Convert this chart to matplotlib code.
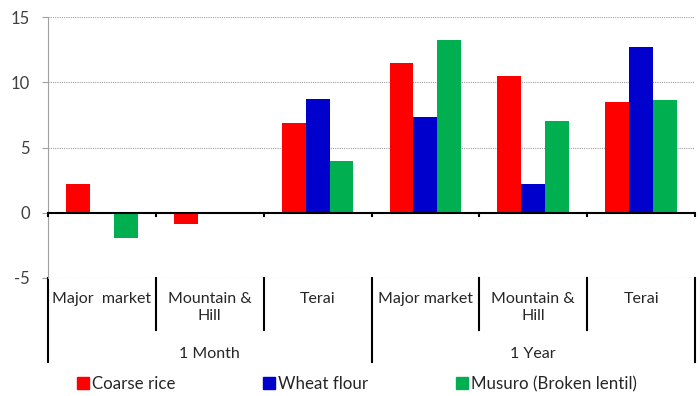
import matplotlib
matplotlib.use("Agg")
import matplotlib.pyplot as plt
from matplotlib.lines import Line2D
import numpy as np

# Данные: изменение цен (%) по регионам за месяц и за год
categories = ["Major  market", "Mountain &\nHill", "Terai",
              "Major market", "Mountain &\nHill", "Terai"]
periods = ["1 Month", "1 Year"]
coarse_rice = [2.2, -0.9, 6.85, 11.45, 10.45, 8.45]
wheat_flour = [0.0, 0.0, 8.7, 7.35, 2.2, 12.7]
musuro = [-1.9, 0.0, 3.95, 13.2, 7.05, 8.65]

series_names = ["Coarse rice", "Wheat flour", "Musuro (Broken lentil)"]
colors = ["#ff0000", "#0000cc", "#00b050"]

plt.rcParams["font.family"] = ["Lato", "DejaVu Sans"]
plt.rcParams["axes.unicode_minus"] = False

fig = plt.figure(figsize=(7, 3.96), dpi=100)
ax = fig.add_axes([48 / 700, 1 - 278 / 396, (695 - 48) / 700, (278 - 17) / 396])

x = np.arange(len(categories))
w = 0.222
for i, (vals, col, name) in enumerate(zip([coarse_rice, wheat_flour, musuro], colors, series_names)):
    ax.bar(x + (i - 1) * w, vals, width=w, color=col, label=name, zorder=3)

ax.set_xlim(-0.5, len(categories) - 0.5)
ax.set_ylim(-5, 15)
ax.set_yticks([-5, 0, 5, 10, 15])
ax.tick_params(axis="y", length=4, pad=9, color="#a0a0a0", labelcolor="#404040", labelsize=12)
ax.set_xticks([])

for y in [-5, 5, 10, 15]:
    ax.axhline(y, color="#a0a0a0", linestyle=(0, (1, 1)), linewidth=0.8, zorder=1)
ax.axhline(0, color="black", linewidth=1.5, zorder=4)

for s in ["top", "right", "bottom"]:
    ax.spines[s].set_visible(False)
ax.spines["left"].set_color("#a0a0a0")
ax.spines["left"].set_linewidth(0.8)

# насечки на нулевой линии между категориями
tr = ax.get_xaxis_transform()
bounds = np.arange(len(categories) + 1) - 0.5
zero_frac = 5 / 20
for b in bounds:
    ax.plot([b, b], [zero_frac, zero_frac - 0.012], transform=tr, color="black",
            linewidth=1.5, clip_on=False, zorder=4)

# двухуровневая подпись оси X
for b in bounds:
    low = -0.322 if b in (bounds[0], bounds[3], bounds[-1]) else -0.199
    ax.plot([b, b], [0, low], transform=tr, color="black", linewidth=1.5, clip_on=False)

for xi, lab in zip(x, categories):
    ax.text(xi, -0.052, lab, transform=tr, ha="center", va="top", fontsize=11.5,
            color="#262626", linespacing=1.35)

for k, p in enumerate(periods):
    ax.text(1 + 3 * k, -0.29, p, transform=tr, ha="center", va="center",
            fontsize=11.5, color="#262626")

handles = [Line2D([], [], marker="s", linestyle="none", markersize=8, color=c)
           for c in colors]
fig.legend(handles, series_names, loc="center", bbox_to_anchor=(0.51, 0.03), ncol=3,
           frameon=False, fontsize=12.2, handlelength=0.7, handletextpad=0.15,
           columnspacing=5.2, labelcolor="#262626", borderpad=0.1)

fig.savefig("out.png", dpi=100)
